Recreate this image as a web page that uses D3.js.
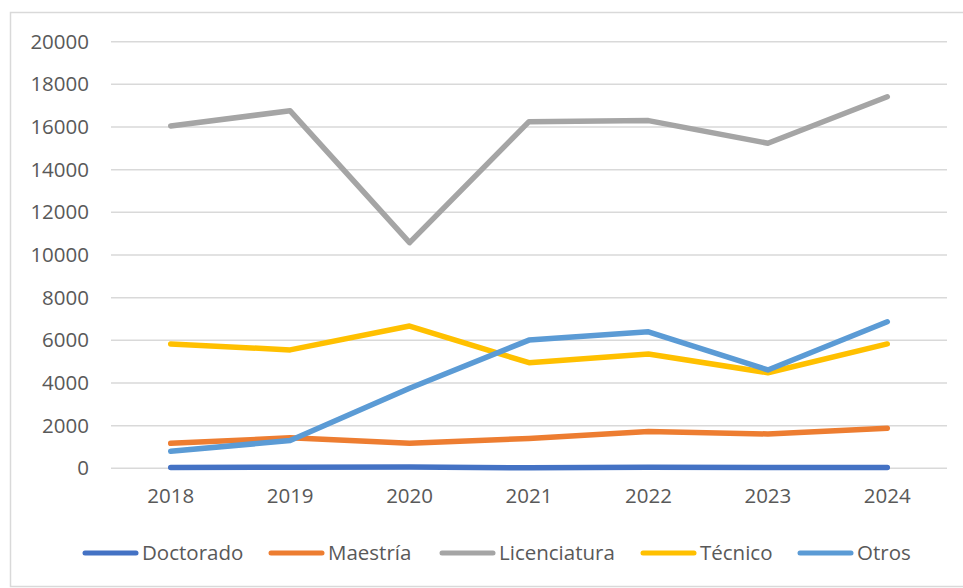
<!DOCTYPE html>
<html>
<head>
<meta charset="utf-8">
<script src="https://cdn.jsdelivr.net/npm/d3@7"></script>
<style>
  body { margin: 0; background: #fff; }
  svg { display: block; font-family: 'Open Sans', sans-serif; }
</style>
</head>
<body>
<svg id="chart" width="963" height="588"></svg>
<script>
const years = ['2018', '2019', '2020', '2021', '2022', '2023', '2024']
const yTicks = [0, 2000, 4000, 6000, 8000, 10000, 12000, 14000, 16000, 18000, 20000]

const doctorado = [40, 50, 60, 20, 50, 40, 40]
const maestria = [1170, 1430, 1170, 1400, 1720, 1610, 1880]
const licenciatura = [16050, 16760, 10580, 16250, 16300, 15240, 17420]
const tecnico = [5830, 5550, 6670, 4950, 5360, 4480, 5830]
const otros = [800, 1300, 3750, 6010, 6400, 4610, 6870]

const seriesNames = ['Doctorado', 'Maestría', 'Licenciatura', 'Técnico', 'Otros']
const seriesValues = [doctorado, maestria, licenciatura, tecnico, otros]
const seriesColors = ['#4472C4', '#ED7D31', '#A5A5A5', '#FFC000', '#5B9BD5']

const svg = d3.select('#chart')
const plot = { left: 111, right: 947, top: 41.7, bottom: 468.3 }

// outer chart border
svg.append('rect')
    .attr('x', 10.5).attr('y', 12.5)
    .attr('width', 1000).attr('height', 574)
    .attr('fill', 'none')
    .attr('stroke', '#d9d9d9')
    .attr('stroke-width', 1.5)

const x = d3.scaleBand().domain(years).range([plot.left, plot.right])
const y = d3.scaleLinear().domain([0, 20000]).range([plot.bottom, plot.top])

// gridlines
svg.append('g')
    .selectAll('line')
    .data(yTicks)
    .join('line')
    .attr('x1', plot.left).attr('x2', plot.right)
    .attr('y1', d => y(d)).attr('y2', d => y(d))
    .attr('stroke', '#d9d9d9')
    .attr('stroke-width', 1.5)

// y axis labels
const yAxis = g => g
    .attr('transform', `translate(${plot.left},0)`)
    .call(d3.axisLeft(y).tickValues(yTicks).tickSize(0).tickPadding(22).tickFormat(d3.format('d')))
    .call(g => g.select('.domain').remove())
    .call(g => g.selectAll('text')
        .attr('fill', '#595959')
        .style('font-size', '20.5px')
        .style('font-family', "'Open Sans', sans-serif"))

svg.append('g').call(yAxis)

// x axis labels
const xAxis = g => g
    .attr('transform', `translate(0,${plot.bottom})`)
    .call(d3.axisBottom(x).tickSize(0).tickPadding(20))
    .call(g => g.select('.domain').remove())
    .call(g => g.selectAll('text')
        .attr('fill', '#595959')
        .style('font-size', '20.5px')
        .style('font-family', "'Open Sans', sans-serif"))

svg.append('g').call(xAxis)

// lines
const line = d3.line()
    .x((d, i) => x(years[i]) + x.bandwidth() / 2)
    .y(d => y(d))

svg.append('g')
    .selectAll('path')
    .data(seriesValues)
    .join('path')
    .attr('d', d => line(d))
    .attr('fill', 'none')
    .attr('stroke', (d, i) => seriesColors[i])
    .attr('stroke-width', 5.5)
    .attr('stroke-linecap', 'round')
    .attr('stroke-linejoin', 'round')

// legend
const legendX = [83, 269, 440, 641, 798]
const legendY = 553
const legend = svg.append('g')
    .selectAll('g')
    .data(seriesNames)
    .join('g')
    .attr('transform', (d, i) => `translate(${legendX[i]},${legendY})`)

legend.append('line')
    .attr('x1', 2).attr('x2', 53)
    .attr('stroke', (d, i) => seriesColors[i])
    .attr('stroke-width', 5)
    .attr('stroke-linecap', 'round')

legend.append('text')
    .attr('x', 59)
    .attr('dy', '0.35em')
    .attr('fill', '#595959')
    .style('font-size', '20.5px')
    .text(d => d)
</script>
</body>
</html>
